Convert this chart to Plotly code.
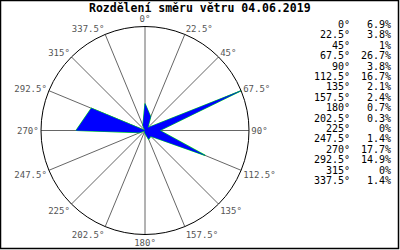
import plotly.graph_objects as go

directions = [0, 22.5, 45, 67.5, 90, 112.5, 135, 157.5, 180, 202.5, 225, 247.5, 270, 292.5, 315, 337.5]
dir_labels = ["0°", "22.5°", "45°", "67.5°", "90°", "112.5°", "135°", "157.5°", "180°",
              "202.5°", "225°", "247.5°", "270°", "292.5°", "315°", "337.5°"]
percent = [6.9, 3.8, 1, 26.7, 3.8, 16.7, 2.1, 2.4, 0.7, 0.3, 0, 1.4, 17.7, 14.9, 0, 1.4]
pct_labels = ["6.9%", "3.8%", "1%", "26.7%", "3.8%", "16.7%", "2.1%", "2.4%", "0.7%",
              "0.3%", "0%", "1.4%", "17.7%", "14.9%", "0%", "1.4%"]
title = "Rozdělení směru větru 04.06.2019"

W, H = 400, 250
mono = "DejaVu Sans Mono"

r_closed = percent + [percent[0]]
t_closed = directions + [directions[0]]

fig = go.Figure()
fig.add_trace(go.Scatterpolar(r=r_closed, theta=t_closed, mode="lines",
                              line=dict(color="#00ff00", width=1.2), hoverinfo="skip"))
fig.add_trace(go.Scatterpolar(r=r_closed, theta=t_closed, mode="lines", fill="toself",
                              fillcolor="#0000ff", line=dict(color="#0000ff", width=0.3),
                              hoverinfo="skip"))

cx, cy, R = 145, 130.5, 104
fig.update_layout(
    width=W, height=H,
    margin=dict(l=0, r=0, t=0, b=0),
    paper_bgcolor="white",
    showlegend=False,
    polar=dict(
        domain=dict(x=[(cx - R) / W, (cx + R) / W], y=[1 - (cy + R) / H, 1 - (cy - R) / H]),
        bgcolor="white",
        radialaxis=dict(visible=False, range=[0, max(percent)]),
        angularaxis=dict(
            direction="clockwise", rotation=90,
            tickmode="array", tickvals=directions, ticktext=dir_labels,
            showline=True, linecolor="black", linewidth=1,
            showgrid=True, gridcolor="#666666", gridwidth=1,
            ticks="", tickfont=dict(family=mono, size=9, color="#555555"),
        ),
    ),
)

ann = [dict(x=0.5, y=1 - 7.5 / H, xref="paper", yref="paper", text="<b>" + title + "</b>",
            showarrow=False, xanchor="center", yanchor="middle",
            font=dict(family=mono, size=11.5, color="black"))]
for i, (d, p) in enumerate(zip(dir_labels, pct_labels)):
    y = 1 - (24.5 + 10.4 * i) / H
    ann.append(dict(x=352 / W, y=y, xref="paper", yref="paper", text=d, showarrow=False,
                    xanchor="right", yanchor="middle", font=dict(family=mono, size=10, color="black")))
    ann.append(dict(x=393 / W, y=y, xref="paper", yref="paper", text=p, showarrow=False,
                    xanchor="right", yanchor="middle", font=dict(family=mono, size=10, color="black")))
fig.update_layout(annotations=ann)

fig.add_shape(type="rect", xref="paper", yref="paper", x0=0.5 / W, x1=1 - 1.5 / W,
              y0=1.5 / H, y1=1 - 0.5 / H, line=dict(color="black", width=1.5))

fig.write_html("out.html")
